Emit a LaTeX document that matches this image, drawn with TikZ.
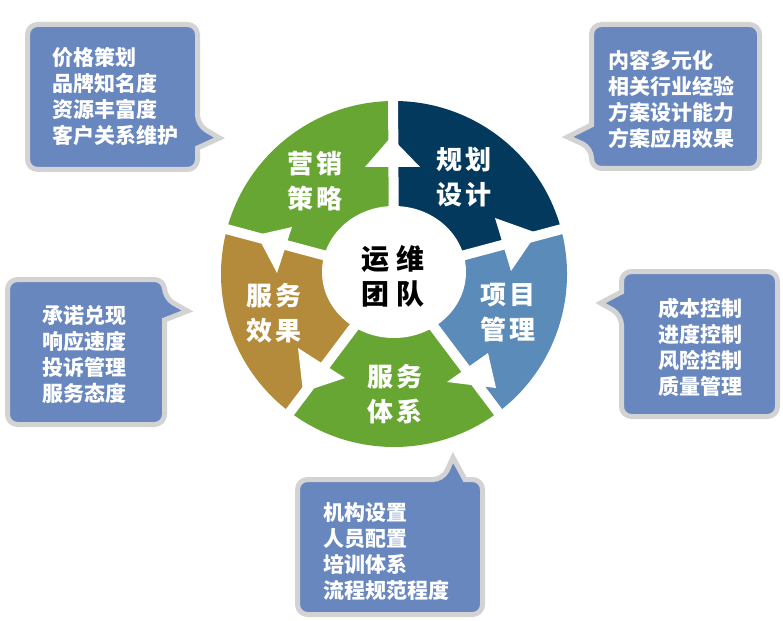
\documentclass[tikz,border=0pt]{standalone}
\usepackage{fontspec}
\newfontfamily\cjk{Noto Sans CJK SC}
\definecolor{segnavy}{RGB}{3,57,92}
\definecolor{segblue}{RGB}{91,139,184}
\definecolor{seggreen}{RGB}{104,166,52}
\definecolor{segtan}{RGB}{179,139,59}
\definecolor{cfill}{RGB}{104,135,190}
\definecolor{cborder}{RGB}{211,211,211}
\begin{document}
\begin{tikzpicture}[x=1pt,y=-1pt,
  seglabel/.style={text=white, font=\cjk\bfseries\fontsize{26}{35}\selectfont, align=center, inner sep=0pt},
  corelabel/.style={text=black, font=\cjk\bfseries\fontsize{28}{35}\selectfont, align=center, inner sep=0pt},
  calltext/.style={text=white, font=\cjk\bfseries\fontsize{21}{26}\selectfont, align=left, anchor=north west, inner sep=0pt},
  callout/.style={fill=cfill, draw=cborder, line width=5pt, line join=miter},
  gapline/.style={white, line width=10pt},
  notch/.style={fill=white}]
\useasboundingbox (0,0) rectangle (783,620);
\coordinate (C) at (394,274);
% ring segments
\fill[segnavy]  (C) -- ++(-90:173) arc[start angle=-90, end angle=-15, radius=173] -- cycle;
\fill[segblue]  (C) -- ++(-15:173) arc[start angle=-15, end angle=53, radius=173] -- cycle;
\fill[seggreen] (C) -- ++(53:173) arc[start angle=53, end angle=127, radius=173] -- cycle;
\fill[segtan]   (C) -- ++(127:173) arc[start angle=127, end angle=195, radius=173] -- cycle;
\fill[seggreen] (C) -- ++(195:173) arc[start angle=195, end angle=270, radius=173] -- cycle;
% gaps
\foreach \a in {-90.3,-15,53,127,195} \draw[gapline] (C) -- ++(\a:185);
% arrow notches
\fill[notch] (391,137) -- (365,167) -- (420,167) -- cycle;
\fill[notch] (495,218) -- (537,233) -- (511,271) -- cycle;
\fill[notch] (488,353) -- (496,388) -- (447,382) -- cycle;
\fill[notch] (298,348) -- (303,392) -- (345,378) -- cycle;
\fill[notch] (257,235) -- (292,227) -- (277,273) -- cycle;
% centre
\fill[white] (394,272) ellipse[x radius=72, y radius=66];
\node[corelabel] (core) at (393,276) {运\hspace{8pt}维\\团\hspace{8pt}队};
\node[seglabel] (plan) at (464,177) {规\hspace{4pt}划\\设\hspace{4pt}计};
\node[seglabel] (proj) at (508,313) {项\hspace{4pt}目\\管\hspace{4pt}理};
\node[seglabel] (sys)  at (395,394) {服\hspace{4pt}务\\体\hspace{4pt}系};
\node[seglabel] (eff)  at (274,313) {服\hspace{4pt}务\\效\hspace{4pt}果};
\node[seglabel] (mkt)  at (315,181) {营\hspace{4pt}销\\策\hspace{4pt}略};
% callouts
\path[callout] (100,24.5) [rounded corners=10pt] -- (197.5,24.5) -- (197.5,125) [sharp corners] -- (219.5,138) -- (197.5,148) [rounded corners=10pt] -- (197.5,169.5) -- (27.5,169.5) -- (27.5,24.5) -- cycle;
\node[calltext] (t1) at (52,47) {价格策划\\品牌知名度\\资源丰富度\\客户关系维护};
\path[callout] (680,24.5) [rounded corners=10pt] -- (759.5,24.5) -- (759.5,168.5) -- (591.5,168.5) -- (591.5,148) [sharp corners] -- (567.5,137) -- (591.5,125) [rounded corners=10pt] -- (591.5,24.5) -- cycle;
\node[calltext] (t2) at (608,50) {内容多元化\\相关行业经验\\方案设计能力\\方案应用效果};
\path[callout] (80,279.5) [rounded corners=10pt] -- (164.5,279.5) -- (164.5,298) [sharp corners] -- (187.5,311) -- (164.5,320) [rounded corners=10pt] -- (164.5,424.5) -- (7.5,424.5) -- (7.5,279.5) -- cycle;
\node[calltext] (t3) at (42,305) {承诺兑现\\响应速度\\投诉管理\\服务态度};
\path[callout] (700,271.5) [rounded corners=10pt] -- (777.5,271.5) -- (777.5,416.5) -- (621.5,416.5) -- (621.5,315) [sharp corners] -- (600.5,303) -- (621.5,292) [rounded corners=10pt] -- (621.5,271.5) -- cycle;
\node[calltext] (t4) at (658,298) {成本控制\\进度控制\\风险控制\\质量管理};
\path[callout] (380,479.5) [rounded corners=10pt] -- (443,479.5) [sharp corners] -- (453,457.5) -- (465,479.5) [rounded corners=10pt] -- (482.5,479.5) -- (482.5,614.5) -- (297.5,614.5) -- (297.5,479.5) -- cycle;
\node[calltext] (t5) at (323,502) {机构设置\\人员配置\\培训体系\\流程规范程度};
\end{tikzpicture}
\end{document}
